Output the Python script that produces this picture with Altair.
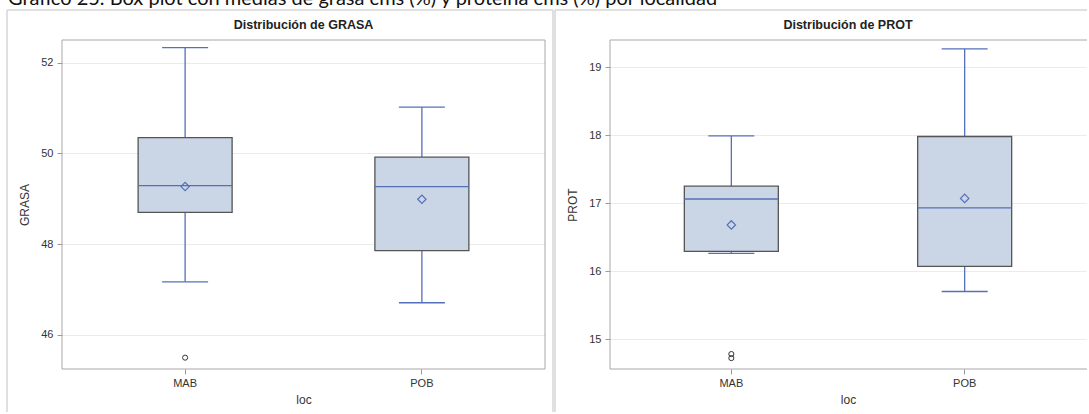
import altair as alt
import pandas as pd

caption_text = "Gráfico 25. Box plot con medias de grasa cms (%) y proteína cms (%) por localidad"

locs = ["MAB", "POB"]

# GRASA (%) statistics per locality
grasa_low = [47.17, 46.71]
grasa_q1 = [48.70, 47.86]
grasa_med = [49.29, 49.27]
grasa_q3 = [50.35, 49.92]
grasa_high = [52.33, 51.02]
grasa_mean = [49.27, 48.99]
grasa_out_loc = ["MAB"]
grasa_out_val = [45.50]
grasa_ticks = [46, 48, 50, 52]

# PROT (%) statistics per locality
prot_low = [16.26, 15.70]
prot_q1 = [16.29, 16.07]
prot_med = [17.06, 16.93]
prot_q3 = [17.25, 17.98]
prot_high = [17.99, 19.27]
prot_mean = [16.68, 17.07]
prot_out_loc = ["MAB", "MAB"]
prot_out_val = [14.72, 14.78]
prot_ticks = [15, 16, 17, 18, 19]

BLUE = "#5470b8"
FILL = "#cad5e6"
BOX_STROKE = "#555555"
FRAME = "#a8a8a8"
BORDER = "#d6d6d6"
FONT = "Liberation Sans"


def panel(var, low, q1, med, q3, high, mean, out_loc, out_val, domain, ticks,
          width, height, full_frame, border_right, with_caption):
    stats = pd.DataFrame({"loc": locs, "low": low, "q1": q1, "med": med,
                          "q3": q3, "high": high, "mean": mean})
    outs = pd.DataFrame({"loc": out_loc, "v": out_val})
    one = pd.DataFrame({"a": [0]})

    xenc = alt.X("loc:N",
                 scale=alt.Scale(domain=locs, paddingInner=0, paddingOuter=0.02),
                 axis=alt.Axis(title="loc", labelAngle=0, grid=False, tickSize=5,
                               labelPadding=3, titlePadding=6))

    def yenc(field):
        return alt.Y(f"{field}:Q",
                     scale=alt.Scale(domain=domain, nice=False, zero=False),
                     axis=alt.Axis(title=var, values=ticks, grid=True, tickSize=5,
                                   labelPadding=4, titlePadding=9))

    layers = []
    if full_frame:
        layers.append(alt.Chart(one).mark_rect(fillOpacity=0, stroke=FRAME, strokeWidth=1).encode(
            x=alt.value(0), x2=alt.value(width), y=alt.value(0), y2=alt.value(height)))
    else:
        layers.append(alt.Chart(one).mark_rule(color=FRAME, strokeWidth=1).encode(
            x=alt.value(0), y=alt.value(0), y2=alt.value(height)))
        layers.append(alt.Chart(one).mark_rule(color=FRAME, strokeWidth=1).encode(
            x=alt.value(0), x2=alt.value(width + 1), y=alt.value(0)))
        layers.append(alt.Chart(one).mark_rule(color=FRAME, strokeWidth=1).encode(
            x=alt.value(0), x2=alt.value(width + 1), y=alt.value(height)))

    layers += [
        alt.Chart(stats).mark_rule(color=BLUE, strokeWidth=1.3).encode(
            x=xenc, y=yenc("low"), y2="high"),
        alt.Chart(stats).mark_bar(size=94, fill=FILL, stroke=BOX_STROKE, strokeWidth=1.3).encode(
            x=xenc, y=yenc("q1"), y2="q3"),
        alt.Chart(stats).mark_tick(size=94, thickness=1.4, color=BLUE, opacity=1).encode(
            x=xenc, y=yenc("med")),
        alt.Chart(stats).mark_tick(size=46, thickness=1.3, color=BLUE, opacity=1).encode(
            x=xenc, y=yenc("low")),
        alt.Chart(stats).mark_tick(size=46, thickness=1.3, color=BLUE, opacity=1).encode(
            x=xenc, y=yenc("high")),
        alt.Chart(stats).mark_point(shape="diamond", filled=False, size=70, color=BLUE,
                                    strokeWidth=1.2, opacity=1).encode(
            x=xenc, y=yenc("mean")),
        alt.Chart(outs).mark_point(shape="circle", filled=False, size=26, color="#333333",
                                   strokeWidth=1, opacity=1).encode(
            x=xenc, y=yenc("v")),
        # outer panel border (top, left, and optionally right)
        alt.Chart(one).mark_rule(color=BORDER, strokeWidth=1.5).encode(
            x=alt.value(-55), x2=alt.value(border_right), y=alt.value(-30)),
        alt.Chart(one).mark_rule(color=BORDER, strokeWidth=1.5).encode(
            x=alt.value(-55), y=alt.value(-30), y2=alt.value(372)),
        # panel title
        alt.Chart(pd.DataFrame({"t": [f"Distribución de {var}"]})).mark_text(
            font=FONT, fontSize=12.5, fontWeight="bold", color="#222222",
            align="center", baseline="middle").encode(
            x=alt.value(width / 2), y=alt.value(-15), text="t:N"),
    ]
    if full_frame:
        layers.append(alt.Chart(one).mark_rule(color=BORDER, strokeWidth=1.5).encode(
            x=alt.value(border_right), y=alt.value(-30), y2=alt.value(372)))
    if with_caption:
        # caption line, partly above the top edge of the page (cut off as in the source)
        layers.append(alt.Chart(pd.DataFrame({"t": [caption_text]})).mark_text(
            font="Lato", fontSize=20, color="#111111", align="left", baseline="alphabetic").encode(
            x=alt.value(-54), y=alt.value(-35), text="t:N"))
        # invisible anchor that fixes the top of the drawing
        layers.append(alt.Chart(one).mark_rule(strokeOpacity=0, strokeWidth=1).encode(
            x=alt.value(-55), x2=alt.value(-50), y=alt.value(-60)))

    return alt.layer(*layers).properties(width=width, height=height)


left = panel("GRASA", grasa_low, grasa_q1, grasa_med, grasa_q3, grasa_high, grasa_mean,
             grasa_out_loc, grasa_out_val, [45.25, 52.5], grasa_ticks, 483, 329, True, 491, True)
right = panel("PROT", prot_low, prot_q1, prot_med, prot_q3, prot_high, prot_mean,
              prot_out_loc, prot_out_val, [14.56, 19.4], prot_ticks, 476, 329, False, 477, False)

chart = alt.hconcat(left, right, spacing=65, bounds="flush").resolve_scale(
    x="independent", y="independent"
).properties(
    padding={"left": 6, "top": -20, "right": 0, "bottom": 0}
).configure_view(stroke=None).configure_axis(
    labelFont=FONT, labelFontSize=11, labelColor="#333333",
    titleFont=FONT, titleFontSize=12, titleFontWeight="normal", titleColor="#333333",
    tickColor="#999999", gridColor="#ebebeb", domain=False,
)

chart.save("out.html", embed_options={"renderer": "svg", "actions": False})
